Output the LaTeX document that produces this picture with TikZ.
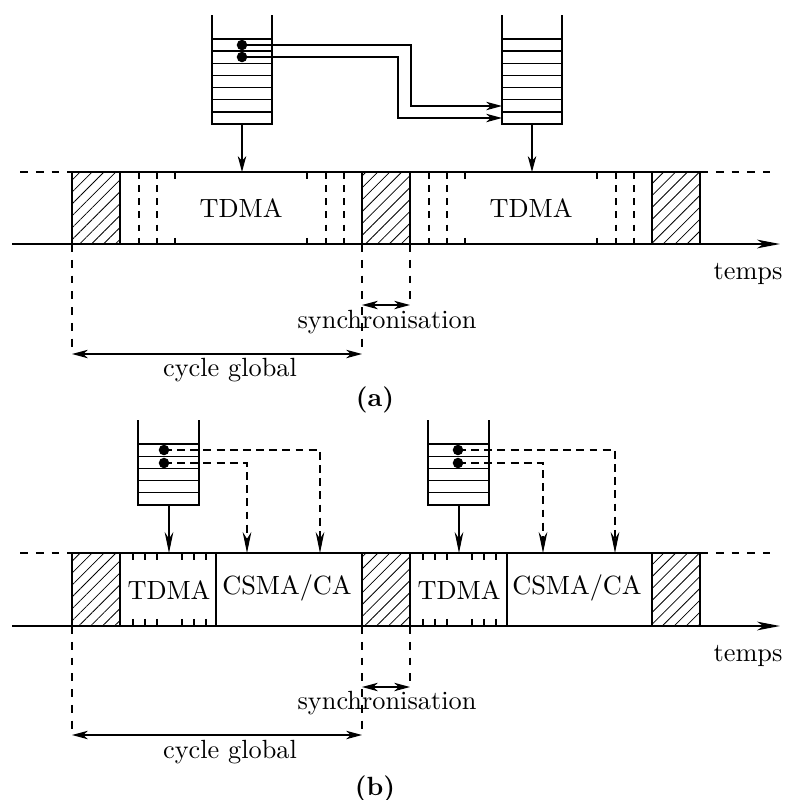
\documentclass[tikz,border=0pt]{standalone}
\usepackage{tikz}
\usetikzlibrary{arrows.meta,patterns.meta,calc}

\begin{document}
\begin{tikzpicture}[x=0.38pt,y=-0.38pt,font=\normalsize,
  >={Stealth[length=6pt,width=3.2pt,inset=1.7pt]},
  bigtip/.style={-{Stealth[length=8pt,width=3.3pt,inset=2.6pt]}},
  queue/.style={line width=0.5pt},
  slot/.style={draw,line width=0.5pt,pattern={Lines[angle=45,distance=3.2pt,line width=0.3pt]}},
  frame/.style={line width=0.7pt},
  timeaxis/.style={line width=0.7pt,-{Stealth[length=8.7pt,width=3.3pt,inset=2.4pt]}},
  slotline/.style={dash pattern=on 2.5pt off 2.5pt},
  route/.style={dash pattern=on 3pt off 2pt},
  dot/.style={circle,fill,inner sep=0pt,minimum size=4pt},
  cover/.style={fill=white,inner sep=0pt,minimum height=21pt}]
\useasboundingbox (0,0) rectangle (785,800);

% (a)
\foreach \qx in {212,502} {
  \draw[queue] (\qx,15) -- (\qx,124) -- (\qx+60,124) -- (\qx+60,15);
  \foreach \k in {0,...,6}
    \draw[queue] (\qx,39+12.14*\k) -- ++(60,0);
}
\node[dot] (pa1) at (242,45) {};
\node[dot] (pa2) at (242,57) {};
\coordinate (ra1) at (502,106);
\coordinate (ra2) at (502,118);
\draw[->] (pa1.center) -- (411,45) |- (ra1);
\draw[->] (pa2.center) -- (398,57) |- (ra2);
\coordinate (qa1) at (242,124);
\coordinate (qa2) at (532,124);
\coordinate (sa1) at (242,172);
\coordinate (sa2) at (532,172);
\draw[->] (qa1) -- (sa1);
\draw[->] (qa2) -- (sa2);

\draw[dashed] (20,172) -- (72,172);
\draw[dashed] (700,172) -- (770,172);
\foreach \x in {139,157,175,307,326,344,429,447,465,597,616,634}
  \draw[slotline] (\x,172) -- (\x,244);
\draw[frame] (72,172) -- (700,172);
\foreach \x in {72,362,652}
  \draw[slot] (\x,172) rectangle ++(48,72);
\draw[timeaxis] (12,244) -- (780,244);
\node[cover,minimum width=52pt] (ta1) at (241,208) {TDMA};
\node[cover,minimum width=52pt] (ta2) at (531,208) {TDMA};

\coordinate (ca0) at (72,244);
\coordinate (ca1) at (362,244);
\coordinate (ca2) at (410,244);
\draw[dashed] (ca0) -- ++(0,106);
\draw[dashed] (ca1) -- ++(0,106);
\draw[dashed] (ca2) -- ++(0,58);
\draw[<->] ($(ca1)+(0,61)$) -- ($(ca2)+(0,61)$);
\draw[<->] ($(ca0)+(0,110)$) -- ($(ca1)+(0,110)$);
\node (tempsa) at (748,274) {temps};
\node (synca) at (387,322) {synchronisation};
\node (cyclea) at (230,370) {cycle global};
\node (capa) at (375,400) {\textbf{(a)}};

% (b)
\foreach \qx in {138,428} {
  \draw[queue] (\qx,420) -- (\qx,505) -- (\qx+61,505) -- (\qx+61,420);
  \foreach \k in {0,...,4}
    \draw[queue] (\qx,444+12.2*\k) -- ++(61,0);
}
\node[dot] (pb1) at (164,450) {};
\node[dot] (pb2) at (164,463) {};
\node[dot] (pb3) at (458,450) {};
\node[dot] (pb4) at (458,463) {};
\coordinate (rb1) at (320,553);
\coordinate (rb2) at (247,553);
\coordinate (rb3) at (615,553);
\coordinate (rb4) at (543,553);
\draw[route,bigtip] (pb1.center) -| (rb1);
\draw[route,bigtip] (pb2.center) -| (rb2);
\draw[route,bigtip] (pb3.center) -| (rb3);
\draw[route,bigtip] (pb4.center) -| (rb4);
\coordinate (qb1) at (169,505);
\coordinate (qb2) at (459,505);
\coordinate (sb1) at (169,553);
\coordinate (sb2) at (459,553);
\draw[bigtip] (qb1) -- (sb1);
\draw[bigtip] (qb2) -- (sb2);

\draw[dashed] (20,553) -- (72,553);
\draw[dashed] (700,553) -- (770,553);
\foreach \x in {133,145,157,182,194,206,423,435,447,472,484,496}
  \draw[slotline] (\x,553) -- (\x,626);
\draw[frame] (72,553) -- (700,553);
\foreach \x in {216,507}
  \draw[frame] (\x,553) -- (\x,626);
\foreach \x in {72,362,652}
  \draw[slot] (\x,553) rectangle ++(48,73);
\draw[timeaxis] (12,626) -- (780,626);
\node[cover] (tb1) at (169,590) {TDMA};
\node[cover] (tb2) at (459,590) {TDMA};
\node (cb1) at (287,588) {CSMA/CA};
\node (cb2) at (577,588) {CSMA/CA};

\coordinate (cb0) at (72,626);
\coordinate (cbe1) at (362,626);
\coordinate (cbe2) at (410,626);
\draw[dashed] (cb0) -- ++(0,106);
\draw[dashed] (cbe1) -- ++(0,106);
\draw[dashed] (cbe2) -- ++(0,57);
\draw[<->] ($(cbe1)+(0,61)$) -- ($(cbe2)+(0,61)$);
\draw[<->] ($(cb0)+(0,109)$) -- ($(cbe1)+(0,109)$);
\node (tempsb) at (748,656) {temps};
\node (syncb) at (387,703) {synchronisation};
\node (cycleb) at (230,752) {cycle global};
\node (capb) at (375,789) {\textbf{(b)}};
\end{tikzpicture}
\end{document}
